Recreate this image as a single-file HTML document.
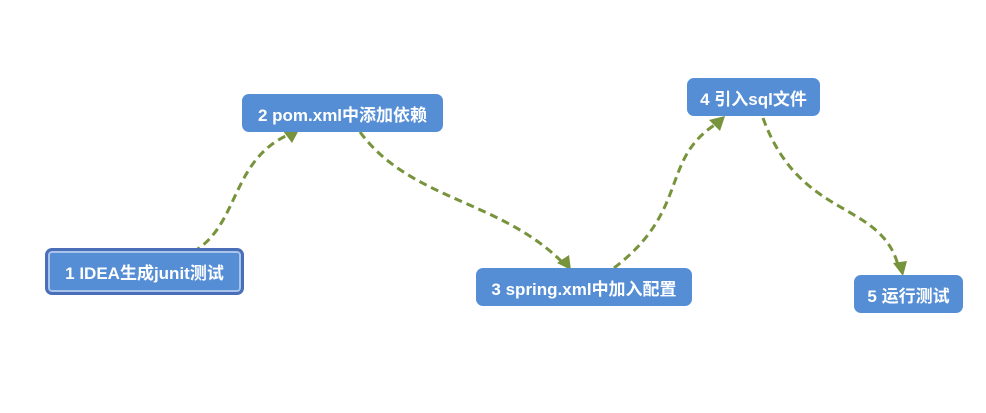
<!DOCTYPE html>
<html><head><meta charset="utf-8"><style>
body{margin:0;width:986px;height:413px;background:#fff;position:relative;overflow:hidden;font-family:"Liberation Sans","Noto Sans CJK SC",sans-serif}
.n{position:absolute;background:#558ed5;color:#fff;font-weight:bold;font-size:17px;border-radius:7px;display:flex;align-items:center;justify-content:center;box-sizing:border-box;white-space:nowrap}
</style></head><body>
<svg width="986" height="413" style="position:absolute;left:0;top:0">
<g fill="none" stroke="#77933c" stroke-width="3" stroke-dasharray="8,5">
<path d="M193,252 C240,225 230,160 290,134"/>
<path d="M360,132 C410,200 500,200 562,262"/>
<path d="M614,268 C690,210 660,160 716,124"/>
<path d="M763,118 C800,220 880,200 898,265"/>
</g>
<g fill="#77933c">
<path d="M300,128 L283,131 L292,143 z"/>
<path d="M571,270 L557,263 L569,255 z"/>
<path d="M725,116 L709,120 L720,131 z"/>
<path d="M903,276 L893,263 L907,261 z"/>
</g></svg>
<div class="n" style="left:45px;top:248px;width:199px;height:47px;border:3px solid #4a6fb8;box-shadow:inset 0 0 0 2px #a9c4ea">1 IDEA生成junit测试</div>
<div class="n" style="left:242px;top:94px;width:201px;height:38px">2 pom.xml中添加依赖</div>
<div class="n" style="left:476px;top:268px;width:216px;height:38px">3 spring.xml中加入配置</div>
<div class="n" style="left:687px;top:78px;width:133px;height:38px">4 引入sql文件</div>
<div class="n" style="left:854px;top:275px;width:109px;height:38px">5 运行测试</div>
</body></html>
